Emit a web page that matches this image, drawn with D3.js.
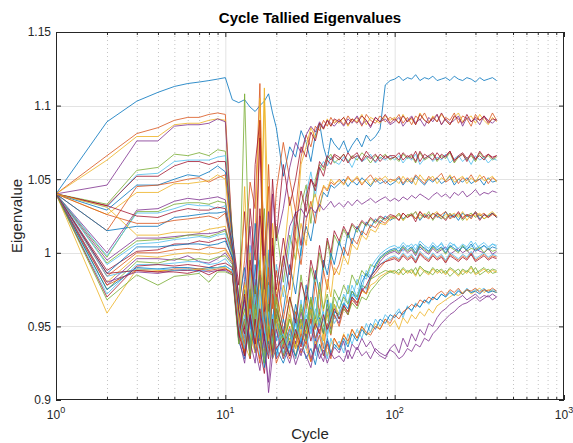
<!DOCTYPE html>
<html><head><meta charset="utf-8">
<script src="https://cdn.jsdelivr.net/npm/d3@7"></script>
<style>body{margin:0;background:#fff}svg{display:block}text{font-family:"Liberation Sans",Arial,sans-serif}</style>
</head><body><svg id="c" width="573" height="443"></svg>
<script>
// cycles at which eigenvalues were tallied
const cycles = [1,2,3,4,5,6,7,8,9,10,
 11,12,13,14,15,16,17,18,19,20,
 22,24,26,28,30,32,34,36,38,40,42,44,
 47,50,53,56,60,64,68,72,77,82,88,94,
 100,106,112,119,126,133,141,150,159,168,178,189,200,212,225,238,252,267,283,300,318,337,357,378,400];
// eigenvalue series, in thousandths above 0.9 (e.g. 140 = 1.040)
const e00=[140,189,203,209,213,215,216,217,218,219, 204,202,204,199,196,200,203,208,195,185, 152,172,165,183,175,162,180,188,172,163,178,174, 170,176,168,173,178,172,180,176,179,184,214,217, 218,220,217,219,218,221,217,219,218,220,217,218,219,217,220,218,217,219,218,216,219,217,218,219,217];
const e01=[140,166,181,185,190,192,192,194,195,194, 112,62,95,148,130,215,75,160,98,142, 175,150,128,165,180,172,186,183,190,186,192,188, 191,187,193,189,192,186,194,190,188,193,189,192, 190,194,188,192,187,193,190,195,189,191,194,187,192,190,195,188,193,191,186,194,190,192,189,195,190];
const e02=[140,163,179,179,187,188,188,190,191,190, 105,48,80,62,115,205,88,55,120,70, 95,138,110,160,172,185,178,188,184,191,186,190, 188,192,186,191,189,194,187,192,190,188,193,190, 192,188,194,189,191,187,195,190,188,193,189,194,190,187,192,195,189,191,193,188,194,190,187,192,189];
const e03=[140,146,176,176,186,187,187,188,191,189, 110,70,42,90,58,125,100,65,140,108, 130,158,175,168,180,186,182,189,185,190,188,186, 190,186,191,188,193,187,190,185,192,189,191,187, 189,192,186,190,193,188,191,186,192,189,194,187,191,188,190,193,186,192,189,191,187,193,190,188,191];
const e04=[140,133,156,158,167,166,168,166,170,169, 115,55,208,72,40,95,130,60,85,118, 80,112,95,132,146,120,150,160,156,164,167,161, 164,167,162,166,163,168,165,161,166,164,167,163, 165,162,167,164,166,161,168,163,165,167,162,166,164,168,161,165,167,163,166,162,168,164,166,163,165];
const e05=[140,131,153,154,162,163,163,163,165,166, 108,60,38,105,72,50,98,80,45,92, 70,105,128,98,140,155,138,157,162,159,165,162, 160,165,163,158,166,162,164,167,161,165,163,166, 163,166,161,165,163,167,160,164,166,162,165,163,167,161,164,166,162,165,160,166,163,165,161,164,163];
const e06=[140,132,152,152,159,162,162,160,162,162, 112,78,128,58,160,190,70,42,110,65, 98,75,118,142,128,150,145,162,158,166,163,167, 165,162,168,164,166,163,169,165,162,167,164,166, 166,163,168,165,167,162,169,164,166,168,163,167,165,169,162,166,168,164,167,163,169,165,167,164,166];
const e07=[140,129,146,146,150,153,152,155,159,155, 110,65,90,48,120,82,55,100,68,40, 60,92,72,102,118,108,126,132,141,138,146,144, 147,150,145,149,146,151,148,145,150,147,149,146, 148,151,146,150,147,152,149,146,150,148,151,147,149,152,146,150,148,151,147,149,150,146,151,148,149];
const e08=[140,115,145,146,148,150,151,148,151,153, 105,58,32,75,52,190,98,145,62,88, 55,78,110,92,122,135,120,138,145,142,148,146, 150,147,152,148,151,146,150,153,148,151,147,150, 149,152,147,151,148,153,150,147,152,149,151,154,148,150,152,147,151,149,153,148,150,152,147,151,149];
const e09=[140,126,141,141,147,147,148,149,153,150, 102,45,145,60,35,88,212,120,70,50, 78,62,95,120,105,132,140,128,146,143,150,147, 149,146,151,148,152,147,150,146,151,149,152,148, 150,147,152,148,151,146,153,149,150,152,147,151,149,153,148,150,152,147,151,148,153,149,150,152,148];
const e10=[140,100,129,130,135,137,136,137,138,136, 104,52,82,118,66,40,92,128,75,55, 90,118,127,130,124,131,127,133,129,132,135,131, 134,131,135,132,136,133,135,137,134,136,138,135, 137,135,138,136,139,137,140,138,136,139,141,138,140,137,141,139,142,138,140,143,139,141,140,142,141];
const e11=[140,97,128,128,133,134,134,133,135,134, 100,55,30,72,48,95,60,38,85,50, 42,70,55,85,62,90,78,100,88,108,95,112, 105,116,110,119,114,121,118,123,120,124,122,125, 123,126,122,125,127,123,126,124,128,122,126,125,123,127,124,126,122,125,127,124,126,123,125,127,124];
const e12=[140,98,127,127,130,133,132,132,130,132, 108,62,40,88,55,30,70,102,48,65, 35,58,45,68,40,62,50,72,55,48,66,58, 70,62,78,68,82,75,88,84,92,96,99,101, 102,104,101,105,103,106,102,104,101,105,103,107,102,104,106,101,105,103,104,107,102,105,103,106,104];
const e13=[140,132,125,124,128,130,129,129,131,130, 106,70,48,130,95,178,60,85,150,110, 160,132,150,172,165,182,176,188,184,190,186,191, 189,192,187,191,188,193,190,186,192,189,194,188, 191,188,193,189,192,187,194,190,188,192,189,195,190,187,193,191,188,194,189,192,190,193,188,191,190];
const e14=[140,115,118,118,124,125,126,127,127,128, 103,50,75,35,92,58,42,80,52,30, 55,38,65,48,78,60,88,72,95,85,100,92, 108,98,114,106,118,112,121,117,123,120,125,122, 124,127,123,126,125,128,122,126,124,127,125,123,128,124,126,122,127,125,124,128,123,126,125,127,124];
const e15=[140,126,120,120,122,123,124,125,123,127, 100,58,38,70,45,25,65,90,42,72, 48,30,60,42,70,52,80,58,88,75,95,85, 92,104,98,110,106,115,112,119,117,122,120,124, 125,122,127,124,126,123,128,125,123,127,124,126,128,123,125,127,124,126,123,128,125,127,124,126,125];
const e16=[140,131,112,112,114,114,114,116,117,118, 98,45,62,100,38,70,205,55,30,68, 40,62,35,55,45,68,52,75,60,82,70,90, 85,98,92,106,102,112,109,116,114,120,119,123, 124,127,122,126,125,128,123,127,124,126,128,123,126,125,127,124,128,122,126,125,127,123,126,128,125];
const e17=[140,95,110,110,111,112,113,113,114,116, 101,60,35,52,80,45,28,62,40,55, 30,48,38,60,42,55,35,52,45,62,48,58, 52,65,58,70,64,76,72,84,88,94,98,100, 101,99,103,100,102,98,104,101,99,103,100,102,104,99,101,103,100,102,98,103,101,100,103,99,101];
const e18=[140,93,108,109,110,112,112,111,113,115, 100,55,30,75,50,35,90,58,42,70, 38,55,42,65,50,70,55,80,62,72,58,75, 68,78,72,85,78,88,84,92,90,96,99,101, 102,100,104,101,103,99,105,102,100,104,101,103,99,104,102,100,105,101,103,102,104,100,103,101,102];
const e19=[140,92,106,107,109,110,111,110,112,113, 98,50,65,40,82,60,35,78,48,28, 50,35,58,40,62,48,70,52,60,45,65,55, 60,72,66,78,70,85,82,90,95,99,102,104, 105,103,107,104,106,102,108,105,103,107,104,106,102,107,105,103,106,104,108,103,105,107,104,106,105];
const e20=[140,88,101,102,106,106,108,107,109,110, 96,60,45,95,70,130,85,50,105,75, 110,85,128,105,138,150,142,158,152,163,160,166, 163,167,161,165,168,162,166,164,167,162,166,164, 165,168,163,166,164,169,162,167,165,163,168,164,166,169,163,165,167,162,168,164,166,163,167,165,166];
const e21=[140,86,104,104,105,106,106,105,106,108, 97,48,70,35,58,85,40,65,32,55, 42,30,55,38,48,62,40,56,45,68,52,60, 58,66,62,74,68,80,86,82,92,97,100,102, 103,101,105,102,104,100,106,103,101,105,102,104,100,105,103,101,104,102,106,101,103,105,102,104,103];
const e22=[140,84,100,100,102,103,102,104,103,103, 95,52,30,68,45,88,55,32,72,48, 35,50,28,45,38,55,42,48,35,52,44,58, 50,62,58,68,64,75,72,82,86,90,94,96, 97,95,99,96,98,94,100,97,95,99,96,98,94,99,97,95,98,96,100,95,97,99,96,98,97];
const e23=[140,80,98,97,99,100,100,99,100,102, 94,55,38,28,62,42,75,48,30,52, 28,42,30,48,35,26,40,32,45,30,38,42, 35,45,38,48,42,50,44,46,52,48,55,50, 54,48,56,52,58,55,60,57,62,59,64,66,68,70,72,71,73,75,72,74,76,73,75,74,73];
const e24=[140,78,96,96,95,98,94,93,96,100, 93,48,68,40,25,58,35,12,45,28, 36,25,40,30,45,28,38,32,26,40,30,36, 32,40,28,38,34,42,36,40,33,30,28,35, 38,32,42,36,45,40,48,44,52,50,56,60,62,65,67,69,71,68,70,72,69,71,70,72,70];
const e25=[140,75,94,93,96,95,96,95,97,98, 92,45,62,35,78,50,30,65,40,58, 30,45,35,55,40,60,48,62,50,58,45,65, 55,62,58,66,62,70,68,74,78,82,85,87, 86,89,85,88,86,90,84,88,87,85,89,86,88,84,87,89,85,88,86,90,85,87,89,86,87];
const e26=[140,72,92,92,93,94,94,92,93,96, 90,42,58,30,72,48,25,60,38,52, 32,48,28,42,35,50,30,45,38,28,42,35, 40,32,45,38,48,42,52,46,55,50,58,54, 58,62,56,64,60,66,63,68,65,70,68,72,70,74,71,75,72,76,73,75,74,76,73,75,74];
const e27=[140,70,91,92,91,92,91,90,92,93, 90,40,72,28,55,35,18,48,30,62, 45,70,52,80,68,95,82,105,90,110,100,115, 108,118,112,120,116,122,119,124,121,125,123,126, 125,122,127,124,126,121,128,124,126,123,127,125,122,126,124,128,123,126,125,127,122,126,124,127,124];
const e28=[140,75,90,89,90,90,89,90,90,91, 88,40,28,55,32,48,22,40,28,35, 25,38,30,42,28,35,24,38,30,42,32,38, 34,42,36,45,40,48,44,52,48,55,52,58, 56,60,58,63,61,65,63,68,66,70,68,72,70,73,71,74,72,75,73,74,72,75,73,74,73];
const e29=[140,78,88,87,89,89,89,88,89,89, 87,46,32,65,40,28,55,35,48,25, 38,28,45,32,40,26,36,44,30,38,28,42, 36,44,40,48,42,50,46,44,50,48,55,52, 58,55,60,62,65,63,68,66,70,68,72,74,71,75,73,76,72,75,74,76,73,75,74,76,74];
const e30=[140,59,89,88,88,88,89,89,90,90, 86,50,78,45,32,60,98,42,28,55, 40,58,35,52,45,62,48,55,40,60,50,65, 58,64,60,70,66,74,72,78,80,84,86,88, 87,85,89,86,88,84,90,87,85,89,86,88,85,89,87,84,88,86,90,85,87,89,86,88,87];
const e31=[140,80,87,86,88,88,88,87,88,88, 85,42,25,58,35,20,45,5,30,48, 28,40,24,35,30,22,38,28,34,25,32,28, 30,26,34,28,36,30,33,28,35,32,30,34, 32,28,30,35,33,38,36,42,40,45,48,52,55,58,60,63,65,66,68,70,67,69,71,68,70];
const e32=[140,68,85,78,84,85,86,80,87,87, 85,38,55,30,65,42,25,50,35,62, 38,55,42,62,48,68,52,58,45,65,55,70, 62,70,65,74,70,78,76,82,84,86,88,87, 88,86,90,87,89,85,91,88,86,90,87,89,86,90,88,85,89,87,91,86,88,90,87,89,88];
const e33=[140,84,89,89,88,89,87,89,90,91, 88,50,35,62,42,75,50,30,58,40, 45,32,52,40,58,45,62,50,55,42,60,52, 58,66,62,72,68,78,75,84,88,92,95,97, 98,96,100,97,99,95,101,98,96,100,97,99,95,100,98,96,99,97,101,96,98,100,97,99,98];
const e34=[140,86,88,87,87,86,88,85,88,89, 86,45,30,58,38,62,42,28,55,35, 42,30,48,36,55,40,52,45,58,48,55,62, 55,64,60,70,66,74,78,84,88,92,94,95, 96,94,98,95,97,93,99,96,94,98,95,97,93,98,96,94,97,95,99,94,96,98,95,97,96];
const seriesList=[e00,e01,e02,e03,e04,e05,e06,e07,e08,e09,e10,e11,e12,e13,e14,e15,e16,e17,e18,e19,e20,e21,e22,e23,e24,e25,e26,e27,e28,e29,e30,e31,e32,e33,e34];
const colors=["#0072BD","#D95319","#EDB120","#7E2F8E","#77AC30","#4DBEEE","#A2142F"];
const yTicks=[0.9,0.95,1,1.05,1.1,1.15];
const xTicks=[1,10,100,1000];
const xExp=["0","1","2","3"];

const svg=d3.select("#c");
const L=56,R=564,T=32,B=400;
const x=d3.scaleLog().domain([1,1000]).range([L,R]);
const y=d3.scaleLinear().domain([0.9,1.15]).range([B,T]);
const minor=[];
for(let d=1;d<1000;d*=10) for(let k=2;k<10;k++) minor.push(d*k);

// grid
const g=svg.append("g");
g.selectAll(".mg").data(minor).enter().append("line")
 .attr("x1",d=>x(d)+0.5).attr("x2",d=>x(d)+0.5).attr("y1",T).attr("y2",B)
 .attr("stroke","#c4c4c4").attr("stroke-width",1).attr("stroke-dasharray","1,3");
g.selectAll(".xg").data(xTicks.slice(1,3)).enter().append("line")
 .attr("x1",d=>x(d)+0.5).attr("x2",d=>x(d)+0.5).attr("y1",T).attr("y2",B)
 .attr("stroke","#e3e3e3").attr("stroke-width",1);
g.selectAll(".yg").data(yTicks.slice(1,5)).enter().append("line")
 .attr("x1",L).attr("x2",R).attr("y1",d=>Math.round(y(d))+0.5).attr("y2",d=>Math.round(y(d))+0.5)
 .attr("stroke","#e3e3e3").attr("stroke-width",1);

// lines
svg.append("clipPath").attr("id","cp").append("rect").attr("x",L).attr("y",T).attr("width",R-L).attr("height",B-T);
const line=d3.line().x(d=>x(d[0])).y(d=>y(d[1]));
const lg=svg.append("g").attr("clip-path","url(#cp)");
seriesList.forEach((s,i)=>{
  const pts=cycles.slice(0,s.length).map((c,j)=>[c,0.9+s[j]/1000]);
  lg.append("path").datum(pts).attr("d",line).attr("fill","none")
    .attr("stroke",colors[i%7]).attr("stroke-width",0.8).attr("stroke-linejoin","round");
});

// axes
const axc="#262626";
function style(a){a.select(".domain").remove();a.selectAll("line").attr("stroke",axc);}
svg.append("g").attr("transform",`translate(0,${B})`).call(d3.axisBottom(x).tickValues(xTicks).tickSize(-5).tickFormat("")).call(style);
svg.append("g").attr("transform",`translate(0,${B})`).call(d3.axisBottom(x).tickValues(minor).tickSize(-3).tickFormat("")).call(style);
svg.append("g").attr("transform",`translate(0,${T})`).call(d3.axisTop(x).tickValues(xTicks).tickSize(-5).tickFormat("")).call(style);
svg.append("g").attr("transform",`translate(0,${T})`).call(d3.axisTop(x).tickValues(minor).tickSize(-3).tickFormat("")).call(style);
const ya=svg.append("g").attr("transform",`translate(${L},0)`).call(d3.axisLeft(y).tickValues(yTicks).tickSize(-5).tickPadding(5).tickFormat(d=>String(+d.toFixed(2))));
ya.select(".domain").remove();ya.selectAll("line").attr("stroke",axc);
ya.selectAll("text").attr("fill",axc).style("font-size","12px").style("font-family","'Liberation Sans',Arial,sans-serif");
svg.append("g").attr("transform",`translate(${R},0)`).call(d3.axisRight(y).tickValues(yTicks).tickSize(-5).tickFormat("")).call(style);
svg.append("rect").attr("x",L+0.5).attr("y",T+0.5).attr("width",R-L-1).attr("height",B-T-1).attr("fill","none").attr("stroke",axc).attr("stroke-width",1);

// x tick labels with superscripts
xTicks.forEach((t,i)=>{
  const tx=svg.append("text").attr("x",x(t)).attr("y",419).attr("text-anchor","middle").attr("fill",axc).style("font-size","12px");
  tx.append("tspan").text("10");
  tx.append("tspan").attr("dy",-6).style("font-size","9px").text(xExp[i]);
});

svg.append("text").attr("x",(L+R)/2).attr("y",23).attr("text-anchor","middle").style("font-size","15px").style("font-weight","bold").attr("fill","#000").text("Cycle Tallied Eigenvalues");
svg.append("text").attr("x",(L+R)/2).attr("y",439).attr("text-anchor","middle").style("font-size","15px").attr("fill",axc).text("Cycle");
svg.append("text").attr("transform",`translate(22,${(T+B)/2}) rotate(-90)`).attr("text-anchor","middle").style("font-size","15px").attr("fill",axc).text("Eigenvalue");
</script></body></html>
